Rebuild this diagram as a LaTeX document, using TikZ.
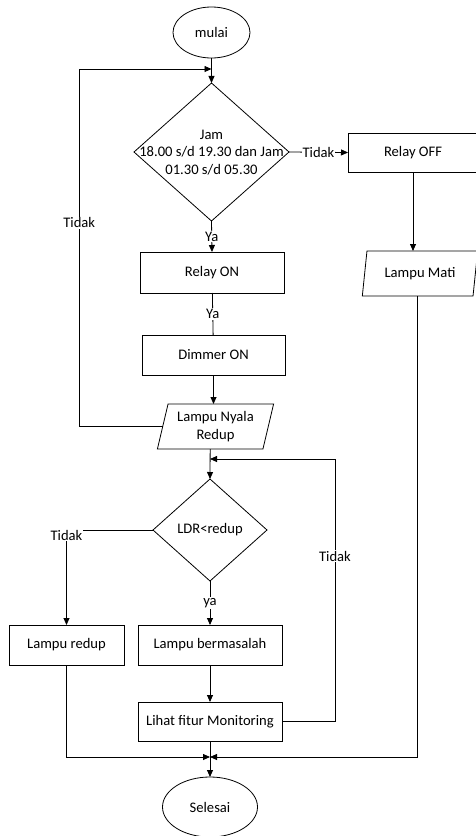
\documentclass[tikz,border=0pt]{standalone}
\usepackage{fontspec}
\setmainfont{Carlito}
\usetikzlibrary{shapes.geometric,arrows.meta}

\begin{document}
\begin{tikzpicture}[x=1pt, y=-1pt, line width=0.8pt,
  >={Triangle[length=7pt,width=6pt]},
  every node/.style={font=\fontsize{14.6}{17.5}\selectfont, inner sep=0pt, outer sep=0pt},
  proses/.style={draw, rectangle, minimum width=#1, minimum height=40pt},
  terminal/.style={draw, ellipse},
  keputusan/.style={draw, diamond},
  io/.style={draw, trapezium, trapezium stretches=true, align=center, minimum height=45pt},
  lbl/.style={fill=white, inner sep=1pt}]
\useasboundingbox (0,0) rectangle (475,836);

% simbol
\node [terminal, minimum width=77pt, minimum height=51pt] at (211.5,32.5) (mulai) {mulai};
\node [keputusan, minimum width=155pt, minimum height=138pt] at (211.5,152) (d1) {};
\node [align=center] at (211.5,152.5) (d1t) {Jam\\18.00 s/d 19.30 dan Jam\\01.30 s/d 05.30};
\node [proses=130pt, minimum height=39pt] at (413,152.5) (relayoff) {Relay OFF};
\node [io, minimum width=116pt, trapezium left angle=76, trapezium right angle=104] at (420,273.5) (mati) {Lampu Mati};
\node [proses=144pt, minimum height=41pt] at (212,272.5) (relayon) {Relay ON};
\node [proses=143pt] at (213.5,355) (dimmer) {Dimmer ON};
\node [io, minimum width=117pt, trapezium left angle=74, trapezium right angle=106] at (215.5,426.5) (nyala) {Lampu Nyala\\Redup};
\node [keputusan, minimum width=114pt, minimum height=102pt] at (210,530) (d2) {LDR<redup};
\node [proses=115pt] at (66.5,645) (redup) {Lampu redup};
\node [proses=144pt] at (210,645) (masalah) {Lampu bermasalah};
\node [proses=144pt, minimum height=39pt] at (210,721.5) (lihat) {Lihat fitur Monitoring};
\node [terminal, minimum width=95pt, minimum height=60pt] at (210,807) (selesai) {Selesai};

% titik pertemuan
\coordinate (j1) at (211.5,69);
\coordinate (j2) at (210,459);
\coordinate (j3) at (210,757);

% garis
\draw[->] (mulai) -- (d1);
\draw[->] (nyala.left side) -- ++(-83.5,0) coordinate (k1) -- node[lbl, pos=0.57] {Tidak} (k1 |- j1) -- (j1);
\draw[->] (d1.east) -- node[lbl] {Tidak} (relayoff.west);
\draw[->] (d1.south) -- node[lbl] {Ya} (relayon.north);
\draw (relayon) -- node[lbl] {Ya} (dimmer);
\draw[->] (relayoff) -- (relayoff |- mati.north);
\draw[->] (dimmer) -- (dimmer |- nyala.north);
\draw[->] (nyala.bottom side) -- (d2.north);
\draw[->] (lihat.east) -- ++(53,0) coordinate (k2) -- node[lbl, pos=0.63] {Tidak} (k2 |- j2) -- (j2);
\draw[->] (d2.west) -| node[lbl, yshift=-5pt] {Tidak} (redup.north);
\draw[->] (d2.south) -- node[lbl] {ya} (masalah.north);
\draw[->] (masalah) -- (lihat);
\draw[->] (lihat) -- (selesai);
\draw[->] (redup.south) |- (j3);
\draw[->] (mati.bottom side) |- (j3);
\end{tikzpicture}
\end{document}
